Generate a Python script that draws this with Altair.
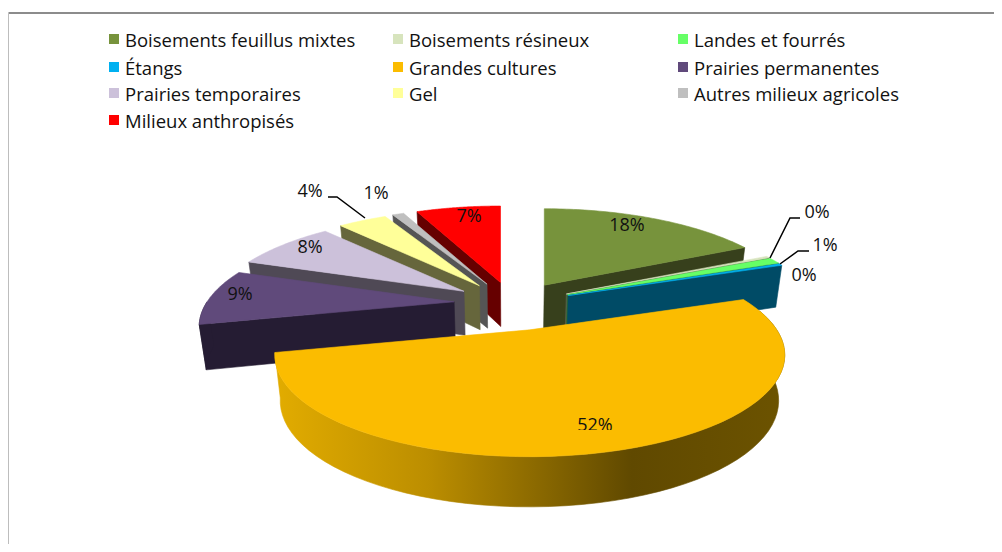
import math
import altair as alt
import pandas as pd

categories = ["Boisements feuillus mixtes", "Boisements résineux", "Landes et fourrés", "Étangs",
              "Grandes cultures", "Prairies permanentes", "Prairies temporaires", "Gel",
              "Autres milieux agricoles", "Milieux anthropisés"]
values = [17.8, 0.3, 1.0, 0.3, 52.0, 9.0, 8.0, 3.9, 0.9, 6.8]
shown = ["18%", "0%", "1%", "0%", "52%", "9%", "8%", "4%", "1%", "7%"]
top_colors = ["#77933C", "#D7E4BD", "#66FF66", "#00B0F0", "#FBBC00", "#604A7B", "#CCC1DA", "#FFFF99", "#BFBFBF", "#FF0000"]
side_colors = ["#37401C", "#5A5F50", "#2C6B2C", "#004B66", "#7A5C00", "#251C33", "#4F4955", "#66663C", "#555555", "#660000"]
label_x = [627, 817, 825, 804, 595, 240, 310, 310, 376, 469]
label_y = [226, 213, 246, 276, 426, 295, 248, 192, 194, 217]
leaders = [[(328, 197), (337, 197), (365, 218)],
           [(800, 218), (790, 218), (770, 258)],
           [(809, 251), (798, 251), (780, 264)]]

FONT = "Open Sans"
CX, CY, EX, EY_BACK, EY_FRONT = 513, 303, 59, 21, 28
R, RY, K, DEPTH = 247, 95.4, 0.248, 44
XS = alt.Scale(domain=[8, 994], nice=False, zero=False)
YS = alt.Scale(domain=[544, 8], nice=False, zero=False)


def apex(mid):
    c = math.cos(math.radians(mid))
    return CX + EX * math.sin(math.radians(mid)), CY - c * (EY_BACK if c > 0 else EY_FRONT)


def top_pt(a, theta, r=1.0):
    u, v = r * math.sin(math.radians(theta)), -r * math.cos(math.radians(theta))
    s = 1 / (1 - K * v)
    return a[0] + R * u * s, a[1] + RY * v * s, v


def low_pt(a, theta, r=1.0):
    x, y, v = top_pt(a, theta, r)
    return x + (CX - x) * 0.0225, y + DEPTH * (1 + 0.14 * v)


def poly(points, fill):
    df = pd.DataFrame({"x": [p[0] for p in points], "y": [p[1] for p in points], "i": range(len(points))})
    return alt.Chart(df).mark_line(interpolate="linear-closed", fill=fill, stroke=fill, strokeWidth=0.6).encode(
        x=alt.X("x:Q", scale=XS, axis=None), y=alt.Y("y:Q", scale=YS, axis=None), order="i:Q")


def arc_range(t0, t1, n=60):
    return [t0 + (t1 - t0) * j / n for j in range(n + 1)]


total = sum(values)
starts, t = [], 0.0
for val in values:
    starts.append(t)
    t += val / total * 360

layers = []
# frame
frame = pd.DataFrame({"x": [8.5, 994], "y": [13, 13]})
layers.append(alt.Chart(frame).mark_line(color="#8c8c8c", strokeWidth=2).encode(
    x=alt.X("x:Q", scale=XS, axis=None), y=alt.Y("y:Q", scale=YS, axis=None)))
frame2 = pd.DataFrame({"x": [8.5, 8.5], "y": [13, 544]})
layers.append(alt.Chart(frame2).mark_line(color="#bdbdbd", strokeWidth=1).encode(
    x=alt.X("x:Q", scale=XS, axis=None), y=alt.Y("y:Q", scale=YS, axis=None), order="y:Q"))

draw_order = [9, 8, 7, 6, 5, 0, 1, 2, 3, 4]
gold = {"gradient": "linear", "x1": 0, "x2": 1, "y1": 0, "y2": 0,
        "stops": [{"offset": 0, "color": "#E2AC00"}, {"offset": 0.3, "color": "#BC8E00"},
                  {"offset": 0.7, "color": "#604900"}, {"offset": 1, "color": "#6C5300"}]}
for idx in draw_order:
    t0 = starts[idx]
    t1 = t0 + values[idx] / total * 360
    a = apex((t0 + t1) / 2)
    arc = arc_range(t0, t1)
    # radial wall facing the viewer
    edge = t1 if t1 <= 180 else t0
    if idx != 4:
        layers.append(poly([top_pt(a, edge, 0)[:2], top_pt(a, edge)[:2], low_pt(a, edge), low_pt(a, edge, 0)],
                           side_colors[idx]))
    # outer wall
    lo, hi = max(t0, 78), min(t1, 270)
    if hi > lo:
        ar = arc_range(lo, hi)
        pts = [top_pt(a, th)[:2] for th in ar] + [low_pt(a, th) for th in reversed(ar)]
        layers.append(poly(pts, gold if idx == 4 else side_colors[idx]))
    layers.append(poly([top_pt(a, 0, 0)[:2]] + [top_pt(a, th)[:2] for th in arc], top_colors[idx]))

for seg in leaders:
    df = pd.DataFrame({"x": [p[0] for p in seg], "y": [p[1] for p in seg], "i": range(len(seg))})
    layers.append(alt.Chart(df).mark_line(color="#000000", strokeWidth=1.5).encode(
        x=alt.X("x:Q", scale=XS, axis=None), y=alt.Y("y:Q", scale=YS, axis=None), order="i:Q"))

labels = pd.DataFrame({"x": label_x, "y": label_y, "t": shown})
layers.append(alt.Chart(labels).mark_text(font=FONT, fontSize=18, color="#111111").encode(
    x=alt.X("x:Q", scale=XS, axis=None), y=alt.Y("y:Q", scale=YS, axis=None), text="t:N"))
# the 52% label is cut by the wall in the original
layers.append(alt.Chart(pd.DataFrame({"x": [570], "x2": [620], "y": [430], "y2": [441]})).mark_rect(color="#FBBC00").encode(
    x=alt.X("x:Q", scale=XS, axis=None), x2="x2:Q", y=alt.Y("y:Q", scale=YS, axis=None), y2="y2:Q"))

# legend
col_x = [108, 392, 677]
row_y = [39, 67, 93, 120]
leg = pd.DataFrame({"name": categories, "c": top_colors,
                    "x": [col_x[i % 3] + 6 for i in range(10)],
                    "tx": [col_x[i % 3] + 17 for i in range(10)],
                    "y": [row_y[i // 3] for i in range(10)],
                    "ty": [row_y[i // 3] + 1.5 for i in range(10)]})
layers.append(alt.Chart(leg).mark_square(size=100, opacity=1).encode(
    x=alt.X("x:Q", scale=XS, axis=None), y=alt.Y("y:Q", scale=YS, axis=None),
    color=alt.Color("c:N", scale=None)))
layers.append(alt.Chart(leg).mark_text(font=FONT, fontSize=18.5, align="left", color="#111111").encode(
    x=alt.X("tx:Q", scale=XS, axis=None), y=alt.Y("ty:Q", scale=YS, axis=None), text="name:N"))

chart = alt.layer(*layers).properties(
    width=986, height=536, padding=0, autosize=alt.AutoSizeParams(type="none"), background="#ffffff"
).configure_view(stroke=None)
chart.save("out.html", embed_options={"renderer": "svg", "actions": False})
